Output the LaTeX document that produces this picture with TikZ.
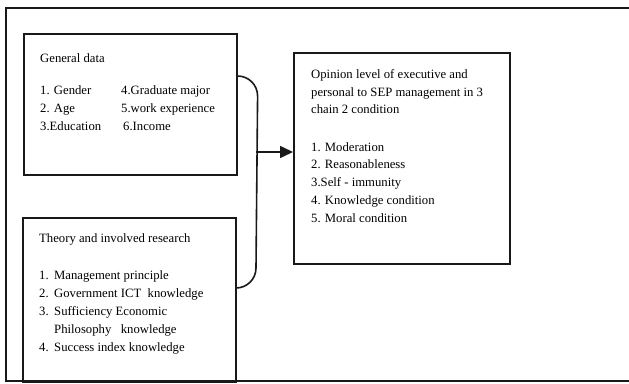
\documentclass[tikz,border=0pt]{standalone}
\usepackage{fontspec}
\setmainfont{Liberation Serif}
\usetikzlibrary{arrows.meta}
\begin{document}
\begin{tikzpicture}[x=1pt,y=-1pt,
  frame/.style={draw=black!90,line width=1.6pt},
  boxnode/.style={draw=black!90,line width=1.6pt,rectangle,inner sep=0pt,anchor=north west},
  txt/.style={anchor=base west,inner sep=0pt,font=\fontsize{12.7}{14}\selectfont,text=black},
  link/.style={draw=black!90,line width=1.6pt}]
\useasboundingbox (0,0) rectangle (629,383);
% outer frame, open on the right
\draw[frame] (640,8) -- (6,8) -- (6,381) -- (640,381);

% boxes
\node[boxnode,minimum width=213pt,minimum height=141pt] (gen) at (23,33) {};
\node[boxnode,minimum width=213pt,minimum height=164pt] (theo) at (22,217) {};
\node[boxnode,minimum width=216pt,minimum height=211pt] (op) at (293,52) {};

% general data
\node[txt] (g0) at (40,62) {General data};
\node[txt] (g1) at (40,94) {1. Gender};
\node[txt] (g2) at (40,112) {2. Age};
\node[txt] (g3) at (40,130) {3.Education};
\node[txt] (g4) at (121,94) {4.Graduate major};
\node[txt] (g5) at (121,112) {5.work experience};
\node[txt] (g6) at (123,130) {6.Income};

% theory and research
\node[txt] (t0) at (39,242) {Theory and involved research};
\foreach \n/\y/\s in {1/279/Management principle,2/297/Government ICT\ \ knowledge,3/315/Sufficiency Economic}
  {\node[txt] (tn\n) at (39,\y) {\n.}; \node[txt] (t\n) at (54,\y) {\s};}
\node[txt] (t3b) at (54,333) {Philosophy\ \ \ knowledge};
\node[txt] (tn4) at (39,351) {4.};
\node[txt] (t4) at (54,351) {Success index knowledge};

% opinion level
\node[txt] (o0) at (311,78) {Opinion level of executive and};
\node[txt] (o1) at (311,96) {personal to SEP management in 3};
\node[txt] (o2) at (311,113) {chain 2 condition};
\node[txt] (o3) at (311,151) {1. Moderation};
\node[txt] (o4) at (311,168) {2. Reasonableness};
\node[txt] (o5) at (311,186) {3.Self - immunity};
\node[txt] (o6) at (311,204) {4. Knowledge condition};
\node[txt] (o7) at (311,222) {5. Moral condition};

% bracket joining the two input boxes, arrow to the result box
\coordinate (ga) at ([yshift=-43pt]gen.north east);
\coordinate (ta) at ([yshift=-71pt]theo.north east);
\coordinate (jn) at (256,152);
\draw[link] (ga) arc[start angle=90,end angle=0,radius=20pt] -- (256,268)
  arc[start angle=0,end angle=-90,radius=20pt] -- (ta);
\draw[link,-{Triangle[length=13pt,width=12pt]}] (jn) -- (jn -| op.west);
\end{tikzpicture}
\end{document}
